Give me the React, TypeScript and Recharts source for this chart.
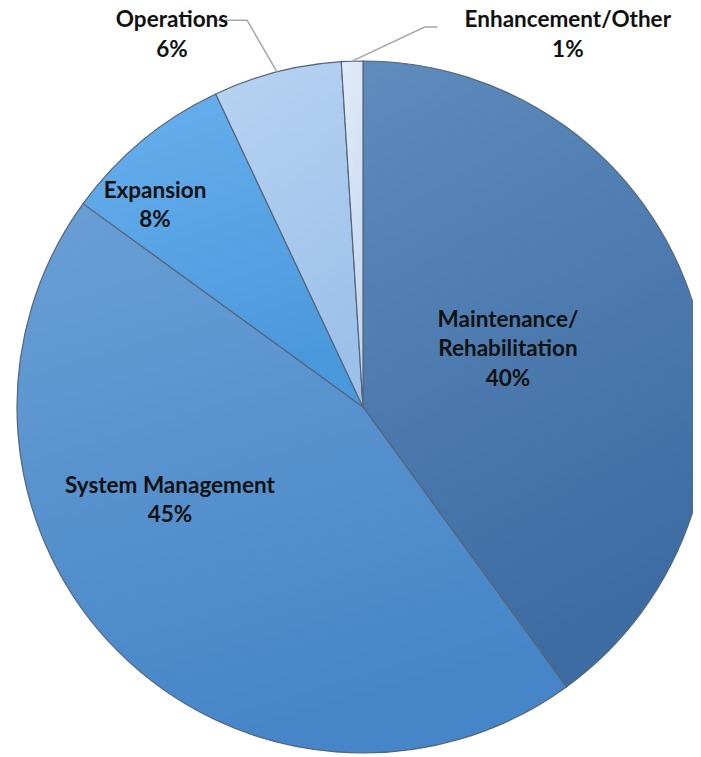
import React from "react";
import { PieChart, Pie, Cell } from "recharts";

const categories = [
  "Maintenance/ Rehabilitation",
  "System Management",
  "Expansion",
  "Operations",
  "Enhancement/Other",
];
const values = [40, 45, 8, 6, 1];

const data = categories.map((name, i) => ({ name, value: values[i] }));

const gradients = [
  ["#5f8bbd", "#3c6ca2"],
  ["#6a9fd5", "#4686c8"],
  ["#68b0ee", "#4a98dc"],
  ["#b8d3f2", "#9dc0ea"],
  ["#e2ecf8", "#c3d7ef"],
];

// label layout: offset of label block center relative to pie center, in units of radius
const labelLayout: Record<number, { dx: number; dy: number; lines: string[]; leader?: number[][] }> = {
  0: { dx: 0.419, dy: -0.171, lines: ["Maintenance/", "Rehabilitation"] },
  1: { dx: -0.558, dy: 0.266, lines: ["System Management"] },
  2: { dx: -0.601, dy: -0.587, lines: ["Expansion"] },
  3: { dx: -0.552, dy: -1.08, lines: ["Operations"], leader: [[-0.428, -1.118], [-0.335, -1.118]] },
  4: { dx: 0.592, dy: -1.08, lines: ["Enhancement/Other"], leader: [[0.215, -1.098], [0.178, -1.098]] },
};

const RAD = Math.PI / 180;

const renderLabel = (props: any) => {
  const { cx, cy, outerRadius, index, percent, midAngle } = props;
  const L = labelLayout[index];
  const R = outerRadius;
  const all = [...L.lines, `${Math.round(percent * 100)}%`];
  const lh = 29.5;
  const x = cx + L.dx * R;
  const yc = cy + L.dy * R;
  const y0 = yc - ((all.length - 1) * lh) / 2;
  let leader = null;
  if (L.leader) {
    const ex = cx + R * Math.cos(-midAngle * RAD);
    const ey = cy + R * Math.sin(-midAngle * RAD);
    const pts = L.leader.map(([a, b]) => `${cx + a * R},${cy + b * R}`).join(" ") + ` ${ex},${ey}`;
    leader = <polyline points={pts} fill="none" stroke="#a6a6a6" strokeWidth={1.5} />;
  }
  return (
    <g key={`lbl-${index}`}>
      {leader}
      {all.map((t, i) => (
        <text
          key={i}
          x={x}
          y={y0 + i * lh}
          textAnchor="middle"
          dominantBaseline="central"
          fill="#111"
          fontFamily="Lato, 'Open Sans', sans-serif"
          fontWeight={700}
          fontSize={22.5}
        >
          {t}
        </text>
      ))}
    </g>
  );
};

export default function App() {
  return (
    <div style={{ width: 701, height: 757, background: "#fff", margin: "-8px 0 0 -8px", overflow: "hidden" }}>
      <PieChart width={701} height={757} margin={{ top: 0, right: 0, bottom: 0, left: 0 }}>
        <defs>
          {gradients.map((g, i) => (
            <linearGradient key={i} id={`g${i}`} x1="0" y1="0" x2="0.3" y2="1">
              <stop offset="0%" stopColor={g[0]} />
              <stop offset="100%" stopColor={g[1]} />
            </linearGradient>
          ))}
        </defs>
        <Pie
          data={data}
          dataKey="value"
          nameKey="name"
          cx={363}
          cy={407}
          innerRadius={0}
          outerRadius={346}
          startAngle={90}
          endAngle={-270}
          isAnimationActive={false}
          stroke="#55657a"
          strokeWidth={1.2}
          label={renderLabel}
          labelLine={false}
        >
          {data.map((d, i) => (
            <Cell key={d.name} fill={`url(#g${i})`} />
          ))}
        </Pie>
      </PieChart>
    </div>
  );
}
